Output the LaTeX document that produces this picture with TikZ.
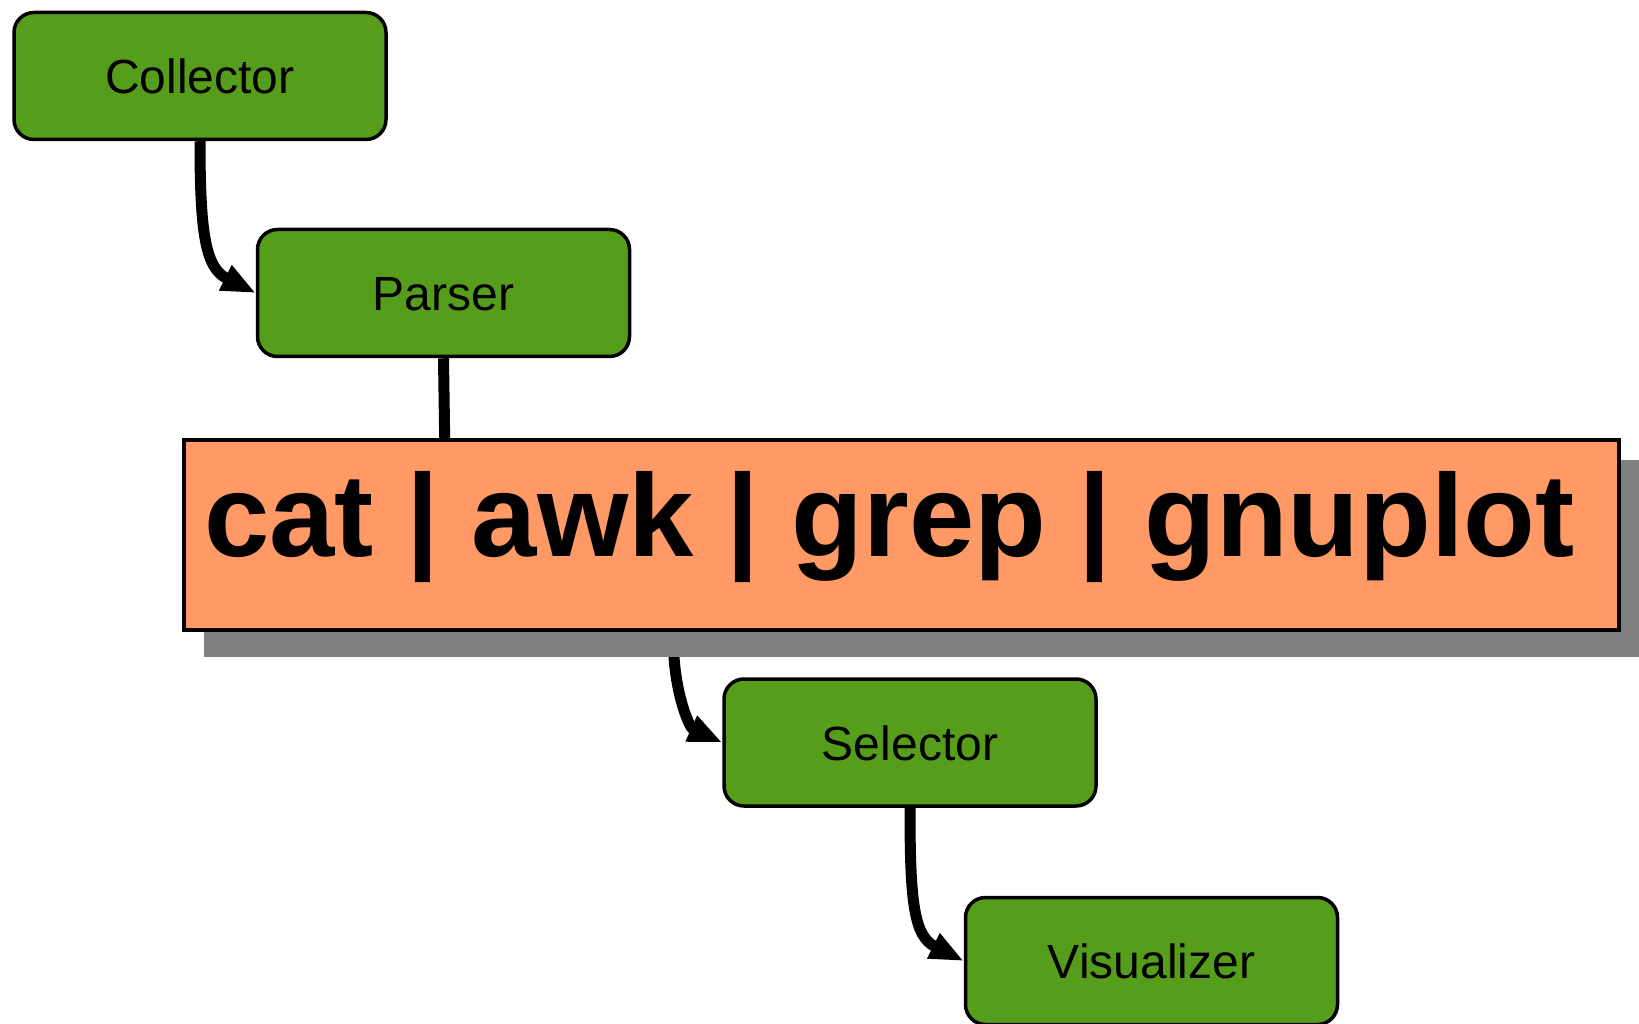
\documentclass[tikz,border=0pt]{standalone}
\usepackage{fontspec}
\setmainfont{Liberation Sans}
\usetikzlibrary{arrows.meta}
\definecolor{boxgreen}{HTML}{579D1C}
\definecolor{pipeorange}{HTML}{FF9966}
\definecolor{shadowgray}{HTML}{808080}
\begin{document}
\begin{tikzpicture}[x=1pt,y=-1pt,
  stage/.style={draw=black, line width=3.5pt, fill=boxgreen, rounded corners=20pt,
    minimum width=372pt, minimum height=127pt, inner sep=0pt,
    text height=35pt, text depth=0pt, font=\fontsize{48}{56}\selectfont},
  flow/.style={line width=11pt, -{Triangle[length=34pt,width=26pt]}},
  pipebox/.style={draw=black, line width=4pt, fill=pipeorange,
    minimum width=1435pt, minimum height=190pt, inner sep=0pt},
  shadowfill/.style={fill=shadowgray},
  cmdtext/.style={anchor=base west, inner sep=0pt, font=\fontsize{117.4}{130}\selectfont\bfseries}]
\useasboundingbox (0,0) rectangle (1639,1024);
\node[stage] (C) at (200,76) {Collector};
\node[stage] (P) at (443.5,293) {Parser};
\node[stage] (S) at (910,742.5) {Selector};
\node[stage] (V) at (1151.5,961) {Visualizer};
\coordinate (hid) at (445,460);
\coordinate (exit) at (674,657);
\draw[flow] (C.south) .. controls +(0,94) and +(-50,-25) .. (P.west);
\draw[flow] (P.south) -- (hid) .. controls (447,560) and (673,560) .. (exit) .. controls (677,700) and (690,728) .. (S.west);
\draw[flow] (S.south) .. controls +(0,94) and +(-50,-25) .. (V.west);
\fill[shadowfill] (204,460) rectangle (1645,657);
\node[pipebox] (pipe) at (901.5,535) {};
\node[cmdtext] (cmd) at (204,556) {cat | awk | grep | gnuplot};
\end{tikzpicture}
\end{document}
